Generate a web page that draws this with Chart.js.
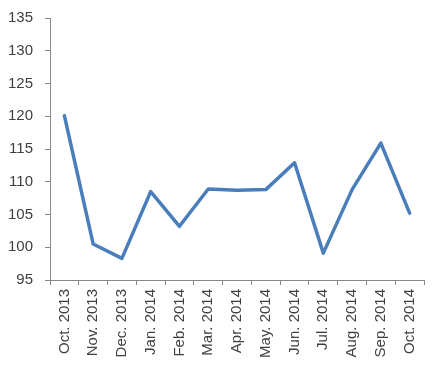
<!DOCTYPE html>
<html>
<head>
<meta charset="utf-8">
<script src="https://cdn.jsdelivr.net/npm/chart.js@4/dist/chart.umd.min.js"></script>
<style>
  html, body { margin: 0; padding: 0; background: #fff; }
  #wrap { width: 442px; height: 373px; }
</style>
</head>
<body>
<div id="wrap"><canvas id="chart"></canvas></div>
<script>
// chart data
const months = ["Oct. 2013", "Nov. 2013", "Dec. 2013", "Jan. 2014", "Feb. 2014", "Mar. 2014",
    "Apr. 2014", "May. 2014", "Jun. 2014", "Jul. 2014", "Aug. 2014", "Sep. 2014", "Oct. 2014"];
const values = [120.1, 100.5, 98.3, 108.5, 103.2, 108.9, 108.7, 108.8, 112.9, 99.1, 108.8, 115.9, 105.2];
const yMin = 95;
const yMax = 135;
const yStep = 5;

const axisGray = "#878787";
const textColor = "#404040";

const ctx = document.getElementById("chart").getContext("2d");
new Chart(ctx, {
    type: "line",
    data: {
        labels: months,
        datasets: [{
            data: values,
            borderColor: "#4A7EBB",
            borderWidth: 3.5,
            borderJoinStyle: "round",
            borderCapStyle: "round",
            pointRadius: 0,
            tension: 0,
            fill: false,
        }],
    },
    options: {
        responsive: true,
        maintainAspectRatio: false,
        animation: false,
        layout: { padding: { top: 18, right: 18, left: 0, bottom: 0 } },
        plugins: { legend: { display: false }, tooltip: { enabled: false } },
        scales: {
            x: {
                offset: true,
                grid: { offset: true, drawOnChartArea: false, drawTicks: true, tickLength: 5, color: axisGray },
                border: { color: axisGray, width: 1 },
                ticks: {
                    autoSkip: false,
                    maxRotation: 90,
                    minRotation: 90,
                    padding: 4,
                    color: textColor,
                    font: { family: "'Liberation Sans', Arial, sans-serif", size: 15 },
                },
                afterFit: (scale) => {
                    scale.height = 93;
                    scale.paddingLeft = 0;
                    scale.paddingRight = 0;
                },
            },
            y: {
                min: yMin,
                max: yMax,
                ticks: {
                    stepSize: yStep,
                    padding: 12,
                    color: textColor,
                    font: { family: "'Liberation Sans', Arial, sans-serif", size: 15 },
                },
                grid: { drawOnChartArea: false, drawTicks: true, tickLength: 5, color: axisGray },
                border: { color: axisGray, width: 1 },
                afterFit: (scale) => {
                    scale.width = 50;
                    scale.paddingTop = 0;
                    scale.paddingBottom = 0;
                },
            },
        },
    },
});
</script>
</body>
</html>
